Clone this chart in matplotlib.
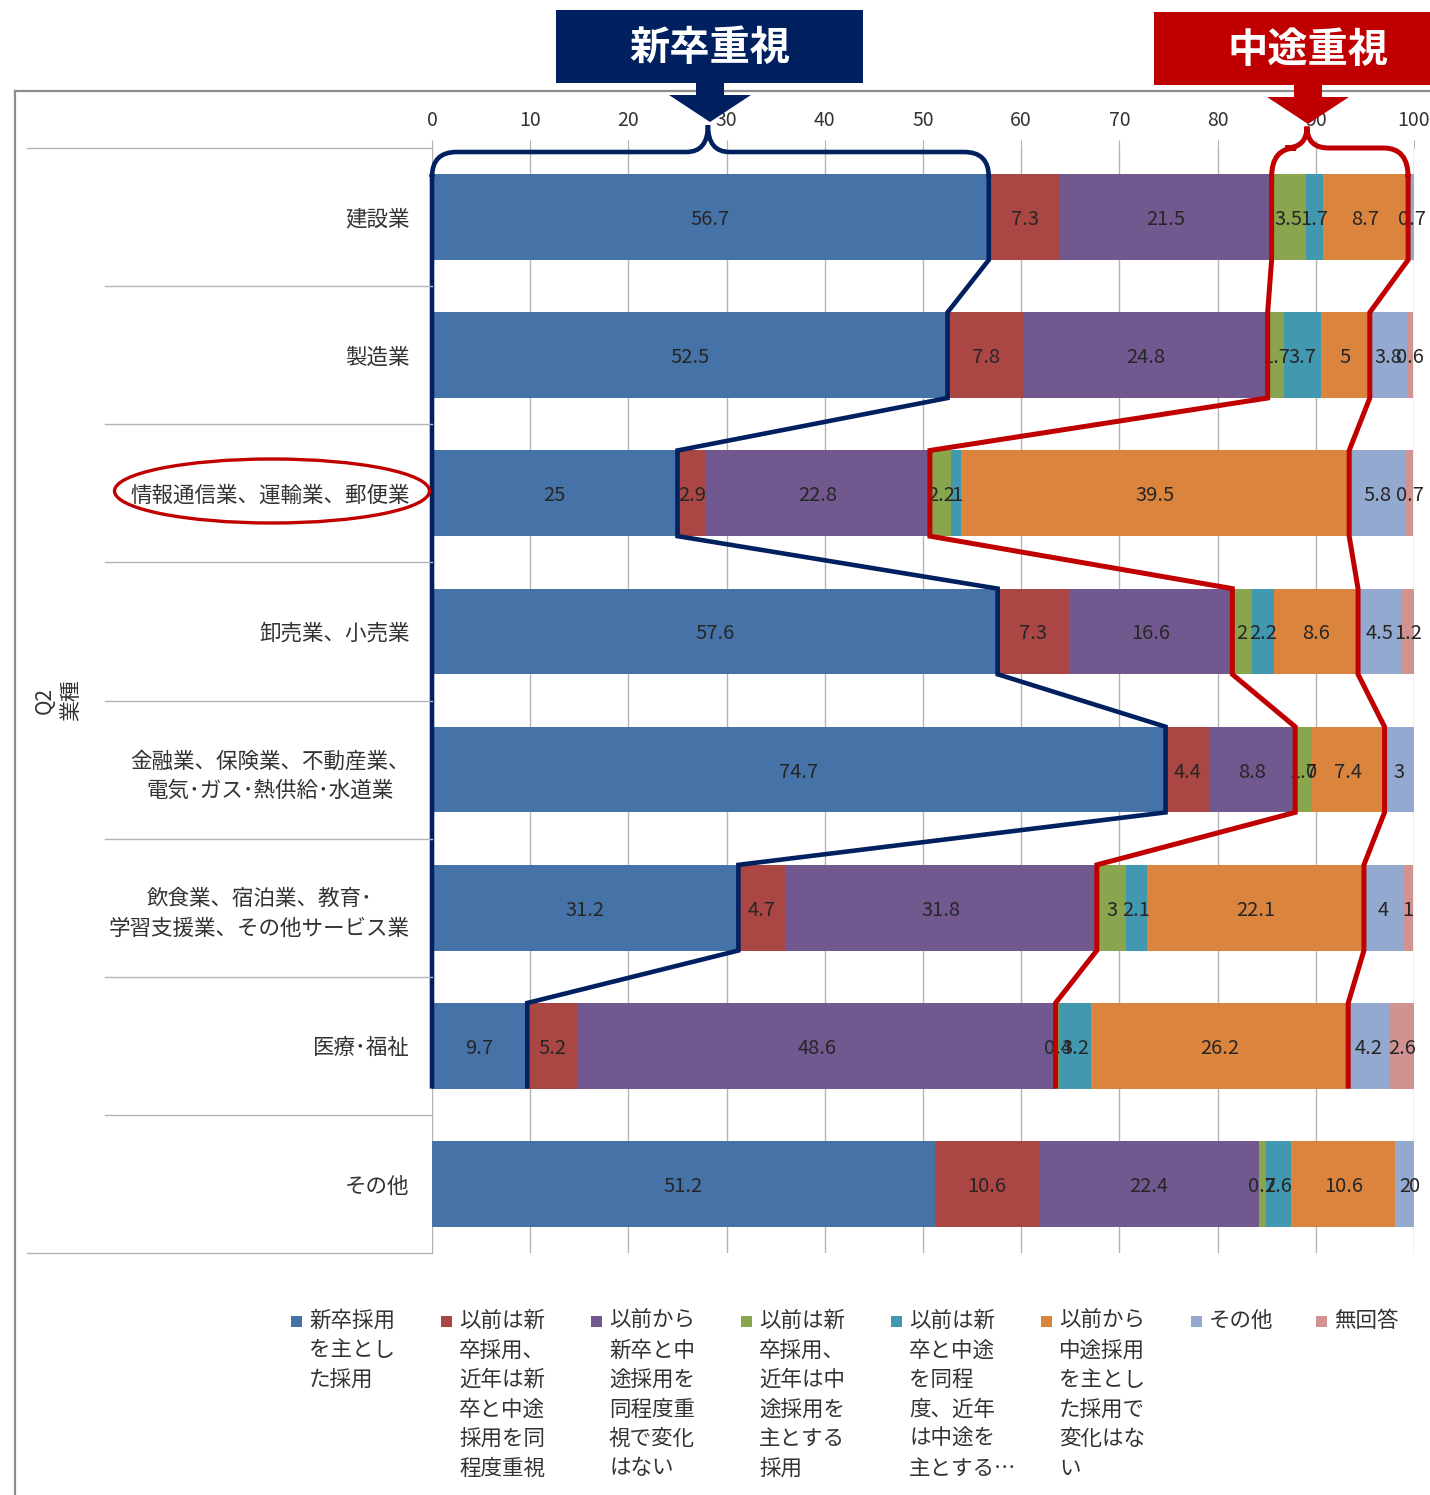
import numpy as np
import matplotlib
matplotlib.use("Agg")
import matplotlib.pyplot as plt
import matplotlib.transforms as mtransforms
from matplotlib.patches import Rectangle, Polygon, Ellipse, PathPatch
from matplotlib.path import Path
from matplotlib.lines import Line2D

plt.rcParams['font.family'] = ['Noto Sans CJK JP', 'DejaVu Sans']

W, H = 1430, 1495

industries = ["建設業", "製造業", "情報通信業、運輸業、郵便業", "卸売業、小売業",
              "金融業、保険業、不動産業、\n電気･ガス･熱供給･水道業",
              "飲食業、宿泊業、教育･\n学習支援業、その他サービス業",
              "医療･福祉", "その他"]

shinsotsu     = [56.7, 52.5, 25.0, 57.6, 74.7, 31.2, 9.7, 51.2]
mae_shin_dou  = [7.3, 7.8, 2.9, 7.3, 4.4, 4.7, 5.2, 10.6]
mae_dou       = [21.5, 24.8, 22.8, 16.6, 8.8, 31.8, 48.6, 22.4]
mae_shin_chu  = [3.5, 1.7, 2.2, 2.0, 1.7, 3.0, 0.4, 0.7]
mae_dou_chu   = [1.7, 3.7, 1.0, 2.2, 0.0, 2.1, 3.2, 2.6]
chuto         = [8.7, 5.0, 39.5, 8.6, 7.4, 22.1, 26.2, 10.6]
sonota        = [0.7, 3.8, 5.8, 4.5, 3.0, 4.0, 4.2, 2.0]
mukaitou      = [np.nan, 0.6, 0.7, 1.2, np.nan, 1.0, 2.6, 0.0]

series = [shinsotsu, mae_shin_dou, mae_dou, mae_shin_chu,
          mae_dou_chu, chuto, sonota, mukaitou]
series_labels = [
    ["新卒採用", "を主とし", "た採用"],
    ["以前は新", "卒採用、", "近年は新", "卒と中途", "採用を同", "程度重視"],
    ["以前から", "新卒と中", "途採用を", "同程度重", "視で変化", "はない"],
    ["以前は新", "卒採用、", "近年は中", "途採用を", "主とする", "採用"],
    ["以前は新", "卒と中途", "を同程", "度、近年", "は中途を", "主とする…"],
    ["以前から", "中途採用", "を主とし", "た採用で", "変化はな", "い"],
    ["その他"],
    ["無回答"],
]
colors = ["#4572A7", "#AA4643", "#71588F", "#89A54E",
          "#4198AF", "#DB843D", "#93A9CF", "#D19392"]

NAVY = "#002060"
RED = "#C00000"
GRID = "#B3B3B3"
TXT = "#333333"

fig = plt.figure(figsize=(W / 100, H / 100), dpi=100)


def fx(px):
    return px / W


def fy(py):
    return 1 - py / H


ax = fig.add_axes([fx(432), fy(1253), fx(1414) - fx(432), fy(148) - fy(1253)])

ypos = np.arange(len(industries))
bar_h = 0.62
left = np.zeros(len(industries))
for vals, col in zip(series, colors):
    v = np.nan_to_num(np.array(vals, dtype=float))
    ax.barh(ypos, v, left=left, height=bar_h, color=col, zorder=2)
    for i, raw in enumerate(vals):
        if np.isnan(raw):
            continue
        ax.text(left[i] + v[i] / 2, ypos[i], f"{raw:g}", ha="center",
                va="center_baseline", fontsize=14.5, color="#262626", zorder=4)
    left += v

ax.set_xlim(0, 100)
ax.set_ylim(len(industries) - 0.5, -0.5)
ax.set_xticks(range(0, 101, 10))
ax.xaxis.tick_top()
ax.tick_params(axis="x", direction="out", length=6, color=GRID, pad=6,
               labelsize=14, labelcolor=TXT)
ax.grid(axis="x", color=GRID, lw=1, zorder=0)
ax.set_yticks(ypos)
ax.set_yticklabels(industries, fontsize=15.5, color=TXT, ma="center")
for t in ax.get_yticklabels():
    t.set_linespacing(1.45)
ax.tick_params(axis="y", length=0, pad=16)
for s in ax.spines.values():
    s.set_visible(False)

# category separators on the left
blend = mtransforms.blended_transform_factory(fig.transFigure, ax.transData)
for b in np.arange(-0.5, len(industries), 1.0):
    x0 = 27 if b in (-0.5, len(industries) - 0.5) else 105
    fig.add_artist(Line2D([fx(x0), fx(432)], [b, b], transform=blend,
                          color=GRID, lw=1))

fig.text(fx(58), fy(700), "Q2\n業種", rotation=90, ha="center", va="center",
         fontsize=15, color=TXT, linespacing=1.25)

# outer frame
fig.add_artist(Line2D([fx(15), fx(1430)], [fy(91), fy(91)], color="#8C8C8C", lw=1.6))
fig.add_artist(Line2D([fx(15), fx(15)], [fy(91), fy(1495)], color="#8C8C8C", lw=1.6))

# outlines following the cumulative shares
cum = np.cumsum([np.nan_to_num(np.array(s, dtype=float)) for s in series], axis=0)
hh = bar_h / 2
n_out = 7  # rows 0..6


def brace(x_left, x_right, peak, y_flat, y_peak, rx):
    verts = [(x_left, -hh + 0.02), (x_left, y_flat), (x_left + rx, y_flat),
             (peak - 2.2, y_flat), (peak, y_flat), (peak, y_peak),
             (peak, y_flat), (peak + 2.2, y_flat),
             (x_right - rx, y_flat), (x_right, y_flat), (x_right, -hh + 0.02)]
    codes = [Path.LINETO, Path.CURVE3, Path.CURVE3,
             Path.LINETO, Path.CURVE3, Path.CURVE3,
             Path.CURVE3, Path.CURVE3,
             Path.LINETO, Path.CURVE3, Path.CURVE3]
    return verts, codes


def outline(xl, xr, peak, y_flat, y_peak, rx, color, lw):
    left_pts = []
    for i in range(n_out):
        left_pts += [(xl[i], i - hh), (xl[i], i + hh)]
    verts = left_pts[::-1]
    codes = [Path.MOVETO] + [Path.LINETO] * (len(verts) - 1)
    bv, bc = brace(xl[0], xr[0], peak, y_flat, y_peak, rx)
    verts += bv
    codes += bc
    for i in range(n_out):
        verts += [(xr[i], i - hh), (xr[i], i + hh)]
        codes += [Path.LINETO, Path.LINETO]
    ax.add_patch(PathPatch(Path(verts, codes), fill=False, edgecolor=color, lw=lw,
                           clip_on=False, zorder=5, joinstyle="miter"))


zeros = np.zeros(len(industries))
outline(zeros, cum[0], 28.1, -0.471, -0.665, 2.5, NAVY, 3.3)
outline(cum[2], cum[5], 89.1, -0.5, -0.655, 2.5, RED, 3.6)

# header boxes with arrows
for (x0, x1, y0, y1, label, col, ax_c) in [(556, 863, 10, 83, "新卒重視", NAVY, 710),
                                           (1154, 1440, 12, 85, "中途重視", RED, 1308)]:
    fig.add_artist(Rectangle((fx(x0), fy(y1)), fx(x1) - fx(x0), fy(y0) - fy(y1),
                             transform=fig.transFigure, facecolor=col,
                             edgecolor="none", zorder=6))
    fig.text(fx(ax_c), fy((y0 + y1) / 2 + 2), label, ha="center", va="center",
             fontsize=29, fontweight="bold", color="white", zorder=7)
    arrow = [(ax_c - 14, y1 - 1), (ax_c + 14, y1 - 1), (ax_c + 14, y1 + 12),
             (ax_c + 41, y1 + 12), (ax_c, y1 + 39), (ax_c - 41, y1 + 12),
             (ax_c - 14, y1 + 12)]
    fig.add_artist(Polygon([(fx(a), fy(b)) for a, b in arrow], closed=True,
                           transform=fig.transFigure, facecolor=col,
                           edgecolor="none", zorder=6))

# highlight ellipse
fig.add_artist(Ellipse((fx(272), fy(491)), fx(315), 64 / H, transform=fig.transFigure,
                       fill=False, edgecolor=RED, lw=2.4, zorder=6))

# legend
leg_x = [291, 441, 591, 741, 891, 1041, 1191, 1316]
for x, lines, col in zip(leg_x, series_labels, colors):
    fig.add_artist(Rectangle((fx(x), fy(1327)), 11 / W, 11 / H,
                             transform=fig.transFigure, facecolor=col, edgecolor="none"))
    for k, line in enumerate(lines):
        fig.text(fx(x + 18), fy(1321 + k * 29.5), line, ha="left", va="center",
                 fontsize=15.5, color=TXT)

fig.savefig("out.png", dpi=100, facecolor="white")
